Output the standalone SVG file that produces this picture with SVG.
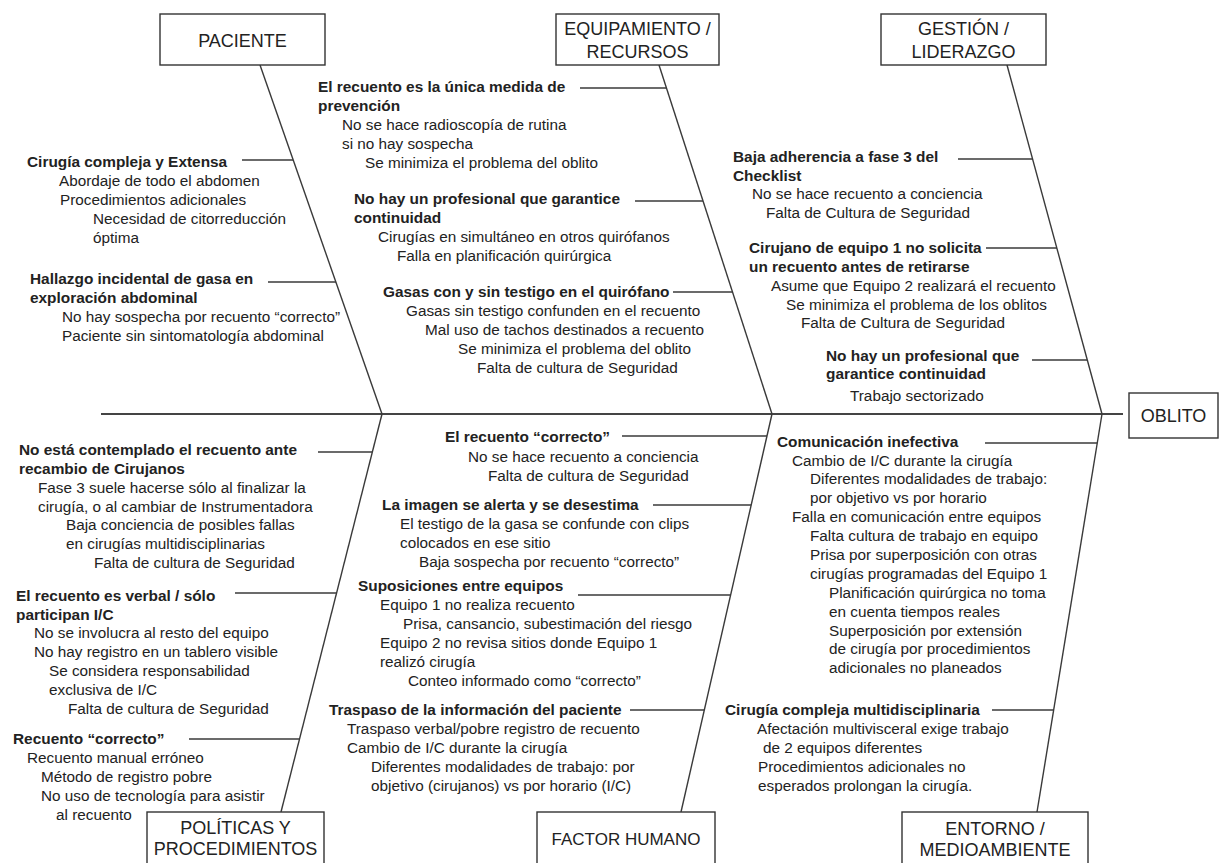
<svg xmlns="http://www.w3.org/2000/svg" width="1231" height="863" viewBox="0 0 1231 863">
<style>
.t{font-family:"Liberation Sans",Arial,sans-serif;font-size:15.3px;fill:#222}
.b{font-family:"Liberation Sans",Arial,sans-serif;font-size:15.4px;font-weight:bold;fill:#222}
.h{font-family:"Liberation Sans",Arial,sans-serif;font-size:18px;fill:#222;text-anchor:middle}
.box{fill:#fff;stroke:#333;stroke-width:1.4}
.ln{stroke:#3a3a3a;stroke-width:1.4;fill:none}
.sp{stroke:#444;stroke-width:1.8;fill:none}
</style>
<rect width="1231" height="863" fill="#fff"/>
<g id="connectors">
<line class="sp" x1="101" y1="414" x2="1123" y2="414"/>
<line class="ln" x1="260" y1="65" x2="382" y2="414"/>
<line class="ln" x1="659" y1="65" x2="772" y2="414"/>
<line class="ln" x1="1007" y1="65" x2="1102" y2="414"/>
<line class="ln" x1="382" y1="414" x2="281" y2="812"/>
<line class="ln" x1="772" y1="414" x2="681" y2="812"/>
<line class="ln" x1="1102" y1="414" x2="1037" y2="812"/>
<line class="ln" x1="242" y1="160" x2="293" y2="160"/>
<line class="ln" x1="268" y1="282" x2="336" y2="282"/>
<line class="ln" x1="580" y1="88" x2="666" y2="88"/>
<line class="ln" x1="635" y1="201" x2="703" y2="201"/>
<line class="ln" x1="673" y1="292" x2="732" y2="292"/>
<line class="ln" x1="958" y1="159" x2="1033" y2="159"/>
<line class="ln" x1="986" y1="248" x2="1057" y2="248"/>
<line class="ln" x1="1032" y1="360" x2="1087" y2="360"/>
<line class="ln" x1="318" y1="452" x2="372" y2="452"/>
<line class="ln" x1="235" y1="593" x2="337" y2="593"/>
<line class="ln" x1="189" y1="739" x2="300" y2="739"/>
<line class="ln" x1="622" y1="436" x2="767" y2="436"/>
<line class="ln" x1="653" y1="505" x2="751" y2="505"/>
<line class="ln" x1="578" y1="595" x2="731" y2="595"/>
<line class="ln" x1="630" y1="710" x2="704" y2="710"/>
<line class="ln" x1="985" y1="443" x2="1097" y2="443"/>
<line class="ln" x1="992" y1="710" x2="1054" y2="710"/>
</g>
<g id="oblito">
<rect class="box" x="1129" y="393" width="89" height="45"/>
<text class="h" x="1173.5" y="422">OBLITO</text>
</g>
<g id="paciente">
<rect class="box" x="160" y="14" width="165" height="51"/>
<text class="h" x="242.5" y="47">PACIENTE</text>
<text class="b" x="27" y="167">Cirugía compleja y Extensa</text>
<text class="t" x="59" y="186">Abordaje de todo el abdomen</text>
<text class="t" x="60" y="205">Procedimientos adicionales</text>
<text class="t" x="93" y="224">Necesidad de citorreducción</text>
<text class="t" x="93" y="243">óptima</text>
<text class="b" x="30" y="284">Hallazgo incidental de gasa en</text>
<text class="b" x="30" y="303">exploración abdominal</text>
<text class="t" x="62" y="322">No hay sospecha por recuento “correcto”</text>
<text class="t" x="62" y="341">Paciente sin sintomatología abdominal</text>
</g>
<g id="equipamiento">
<rect class="box" x="556" y="14" width="163" height="51"/>
<text class="h" x="637.5" y="35">EQUIPAMIENTO /</text>
<text class="h" x="637.5" y="58">RECURSOS</text>
<text class="b" x="318" y="92">El recuento es la única medida de</text>
<text class="b" x="318" y="111">prevención</text>
<text class="t" x="342" y="130">No se hace radioscopía de rutina</text>
<text class="t" x="342" y="149">si no hay sospecha</text>
<text class="t" x="365" y="168">Se minimiza el problema del oblito</text>
<text class="b" x="354" y="204">No hay un profesional que garantice</text>
<text class="b" x="354" y="223">continuidad</text>
<text class="t" x="378" y="242">Cirugías en simultáneo en otros quirófanos</text>
<text class="t" x="397" y="261">Falla en planificación quirúrgica</text>
<text class="b" x="383" y="297">Gasas con y sin testigo en el quirófano</text>
<text class="t" x="406" y="316">Gasas sin testigo confunden en el recuento</text>
<text class="t" x="425" y="335">Mal uso de tachos destinados a recuento</text>
<text class="t" x="458" y="354">Se minimiza el problema del oblito</text>
<text class="t" x="477" y="373">Falta de cultura de Seguridad</text>
</g>
<g id="gestion">
<rect class="box" x="881" y="14" width="165" height="51"/>
<text class="h" x="963.5" y="35">GESTIÓN /</text>
<text class="h" x="963.5" y="58">LIDERAZGO</text>
<text class="b" x="733" y="162">Baja adherencia a fase 3 del</text>
<text class="b" x="733" y="181">Checklist</text>
<text class="t" x="752" y="199">No se hace recuento a conciencia</text>
<text class="t" x="766" y="218">Falta de Cultura de Seguridad</text>
<text class="b" x="749" y="253">Cirujano de equipo 1 no solicita</text>
<text class="b" x="749" y="272">un recuento antes de retirarse</text>
<text class="t" x="771" y="291">Asume que Equipo 2 realizará el recuento</text>
<text class="t" x="786" y="310">Se minimiza el problema de los oblitos</text>
<text class="t" x="801" y="328">Falta de Cultura de Seguridad</text>
<text class="b" x="826" y="361">No hay un profesional que</text>
<text class="b" x="826" y="379">garantice continuidad</text>
<text class="t" x="850" y="401">Trabajo sectorizado</text>
</g>
<g id="politicas">
<rect class="box" x="147" y="812" width="177" height="70"/>
<text class="h" x="235.5" y="834">POLÍTICAS Y</text>
<text class="h" x="235.5" y="855">PROCEDIMIENTOS</text>
<text class="b" x="19" y="455">No está contemplado el recuento ante</text>
<text class="b" x="19" y="474">recambio de Cirujanos</text>
<text class="t" x="38" y="493">Fase 3 suele hacerse sólo al finalizar la</text>
<text class="t" x="38" y="512">cirugía, o al cambiar de Instrumentadora</text>
<text class="t" x="66" y="530">Baja conciencia de posibles fallas</text>
<text class="t" x="66" y="549">en cirugías multidisciplinarias</text>
<text class="t" x="94" y="568">Falta de cultura de Seguridad</text>
<text class="b" x="16" y="601">El recuento es verbal / sólo</text>
<text class="b" x="16" y="620">participan I/C</text>
<text class="t" x="34" y="638">No se involucra al resto del equipo</text>
<text class="t" x="34" y="657">No hay registro en un tablero visible</text>
<text class="t" x="49" y="676">Se considera responsabilidad</text>
<text class="t" x="49" y="695">exclusiva de I/C</text>
<text class="t" x="68" y="714">Falta de cultura de Seguridad</text>
<text class="b" x="13" y="744">Recuento “correcto”</text>
<text class="t" x="27" y="763">Recuento manual erróneo</text>
<text class="t" x="41" y="782">Método de registro pobre</text>
<text class="t" x="41" y="801">No uso de tecnología para asistir</text>
<text class="t" x="56" y="820">al recuento</text>
</g>
<g id="factor-humano">
<rect class="box" x="537" y="812" width="178" height="70"/>
<text class="h" x="626" y="845" style="font-size:17px">FACTOR HUMANO</text>
<text class="b" x="445" y="442">El recuento “correcto”</text>
<text class="t" x="468" y="462">No se hace recuento a conciencia</text>
<text class="t" x="488" y="481">Falta de cultura de Seguridad</text>
<text class="b" x="382" y="510">La imagen se alerta y se desestima</text>
<text class="t" x="400" y="529">El testigo de la gasa se confunde con clips</text>
<text class="t" x="400" y="548">colocados en ese sitio</text>
<text class="t" x="419" y="567">Baja sospecha por recuento “correcto”</text>
<text class="b" x="358" y="591">Suposiciones entre equipos</text>
<text class="t" x="380" y="610">Equipo 1 no realiza recuento</text>
<text class="t" x="403" y="629">Prisa, cansancio, subestimación del riesgo</text>
<text class="t" x="380" y="648">Equipo 2 no revisa sitios donde Equipo 1</text>
<text class="t" x="380" y="667">realizó cirugía</text>
<text class="t" x="408" y="686">Conteo informado como “correcto”</text>
<text class="b" x="329" y="715">Traspaso de la información del paciente</text>
<text class="t" x="347" y="734">Traspaso verbal/pobre registro de recuento</text>
<text class="t" x="347" y="753">Cambio de I/C durante la cirugía</text>
<text class="t" x="371" y="772">Diferentes modalidades de trabajo: por</text>
<text class="t" x="371" y="791">objetivo (cirujanos) vs por horario (I/C)</text>
</g>
<g id="entorno">
<rect class="box" x="902" y="812" width="186" height="70"/>
<text class="h" x="995" y="835">ENTORNO /</text>
<text class="h" x="995" y="856">MEDIOAMBIENTE</text>
<text class="b" x="777" y="447">Comunicación inefectiva</text>
<text class="t" x="792" y="466">Cambio de I/C durante la cirugía</text>
<text class="t" x="810" y="484">Diferentes modalidades de trabajo:</text>
<text class="t" x="810" y="503">por objetivo vs por horario</text>
<text class="t" x="792" y="522">Falla en comunicación entre equipos</text>
<text class="t" x="810" y="541">Falta cultura de trabajo en equipo</text>
<text class="t" x="810" y="560">Prisa por superposición con otras</text>
<text class="t" x="810" y="579">cirugías programadas del Equipo 1</text>
<text class="t" x="829" y="598">Planificación quirúrgica no toma</text>
<text class="t" x="829" y="617">en cuenta tiempos reales</text>
<text class="t" x="829" y="636">Superposición por extensión</text>
<text class="t" x="829" y="654">de cirugía por procedimientos</text>
<text class="t" x="829" y="673">adicionales no planeados</text>
<text class="b" x="725" y="715">Cirugía compleja multidisciplinaria</text>
<text class="t" x="757" y="734">Afectación multivisceral exige trabajo</text>
<text class="t" x="763" y="753">de 2 equipos diferentes</text>
<text class="t" x="758" y="772">Procedimientos adicionales no</text>
<text class="t" x="758" y="791">esperados prolongan la cirugía.</text>
</g>
</svg>
